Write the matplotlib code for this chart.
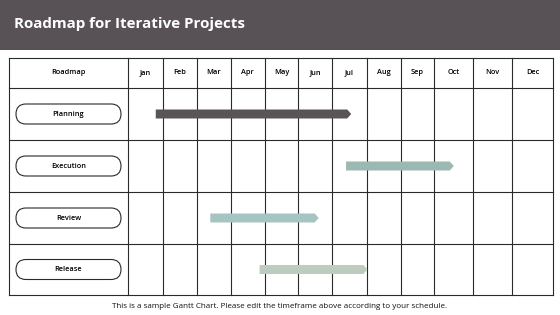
import numpy as np
import matplotlib.pyplot as plt
from matplotlib.patches import FancyBboxPatch, Polygon, Rectangle

# data
months = ['Jan', 'Feb', 'Mar', 'Apr', 'May', 'Jun', 'Jul', 'Aug', 'Sep', 'Oct', 'Nov', 'Dec']
tasks = ['Planning', 'Execution', 'Review', 'Release']
start = [0.8, 6.4, 2.4, 3.85]    # month index (0 = start of Jan)
end = [6.55, 9.5, 5.6, 7.02]
colors = ['#5a5457', '#9bb8b3', '#a6c4c1', '#bdccbe']

title = 'Roadmap for Iterative Projects'
footer = 'This is a sample Gantt Chart. Please edit the timeframe above according to your schedule.'

plt.rcParams['font.family'] = ['Open Sans', 'DejaVu Sans']

fig = plt.figure(figsize=(5.6, 3.15), dpi=100)
ax = fig.add_axes([0, 0, 1, 1])
ax.set_xlim(0, 560)
ax.set_ylim(315, 0)
ax.axis('off')

# header band
ax.add_patch(Rectangle((0, 0), 560, 50, color='#585155', lw=0))
ax.text(14, 24, title, color='white', fontsize=10.9, fontweight='bold', va='center', ha='left')

# table layout
col_edges = [9, 128, 162.7, 196.7, 230.7, 264.7, 298.3, 332.3, 366.7, 400.7, 434.3, 473.3, 512.3, 553]
row_edges = [58, 88, 140, 192, 244, 295]
lc = '#2a2a2a'
for x in col_edges:
    ax.plot([x, x], [row_edges[0], row_edges[-1]], color=lc, lw=0.8, zorder=1)
for y in row_edges:
    ax.plot([col_edges[0], col_edges[-1]], [y, y], color=lc, lw=0.8, zorder=1)

ax.text((col_edges[0] + col_edges[1]) / 2, 73, 'Roadmap', fontsize=5.3, fontweight='semibold',
        ha='center', va='center')
for i, m in enumerate(months):
    ax.text((col_edges[i + 1] + col_edges[i + 2]) / 2, 73, m, fontsize=5.3, fontweight='semibold',
            ha='center', va='center')

month_edges = np.array(col_edges[1:])
bar_h = 9
tip = 4
for i, t in enumerate(tasks):
    yc = (row_edges[i + 1] + row_edges[i + 2]) / 2
    # pill label
    ax.add_patch(FancyBboxPatch((16, yc - 10), 105, 20, boxstyle='round,pad=0,rounding_size=10',
                                fc='white', ec=lc, lw=0.8, zorder=2))
    ax.text(68.5, yc, t, fontsize=5.3, fontweight='semibold', ha='center', va='center', zorder=3)
    # bar with arrow tip
    x0 = np.interp(start[i], np.arange(13), month_edges)
    x1 = np.interp(end[i], np.arange(13), month_edges)
    pts = [(x0, yc - bar_h / 2), (x1 - tip, yc - bar_h / 2), (x1, yc),
           (x1 - tip, yc + bar_h / 2), (x0, yc + bar_h / 2)]
    ax.add_patch(Polygon(pts, closed=True, fc=colors[i], ec='none', zorder=4))

ax.text(280, 307, footer, fontsize=5.8, ha='center', va='center', color='#111111')

fig.savefig('out.png', dpi=100)
